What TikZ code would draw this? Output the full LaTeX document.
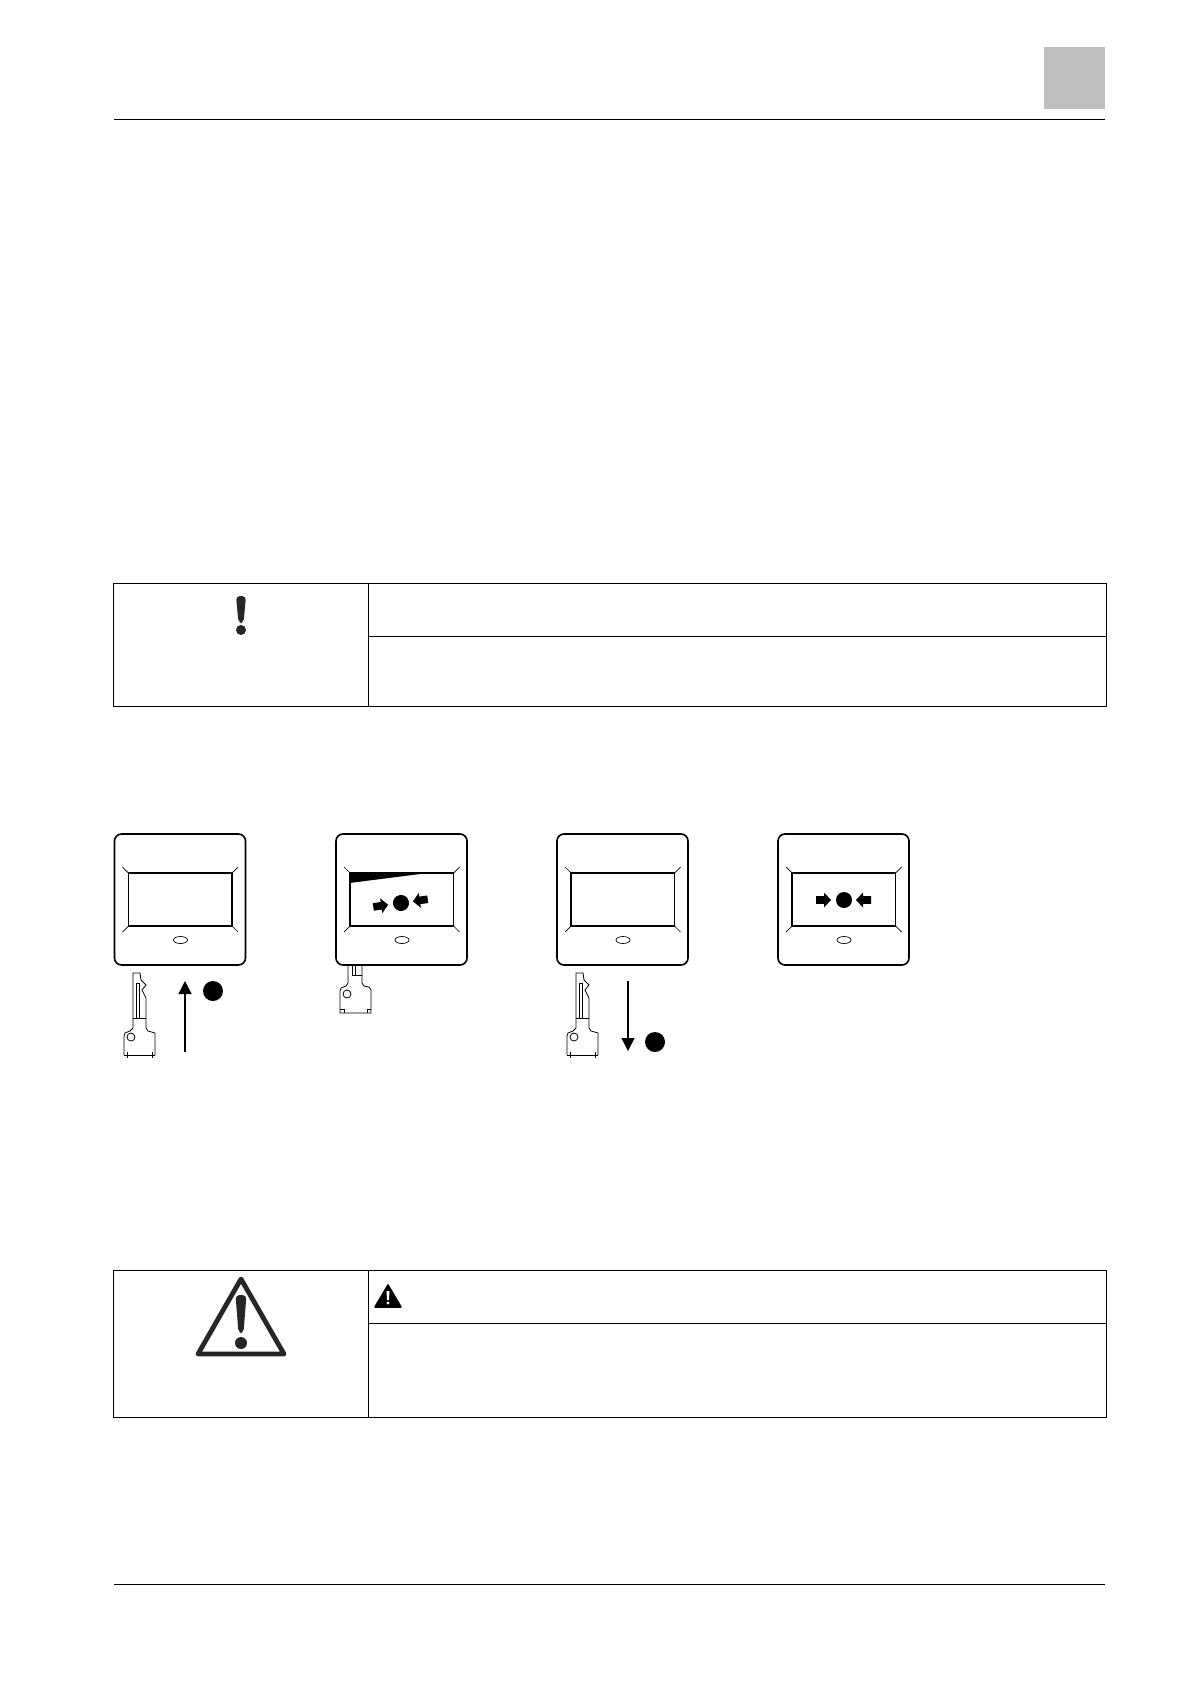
\documentclass[tikz,border=0pt]{standalone}
\usepackage{tikz}
\usetikzlibrary{arrows.meta}
\definecolor{tabgray}{HTML}{BFBFBF}
\definecolor{signblack}{HTML}{262626}
\tikzset{
	rule line/.style={line width=0.55pt, color=black},
	cell line/.style={line width=0.5pt, color=black},
	panel line/.style={line width=0.8pt, color=black, rounded corners=3.5pt},
	window line/.style={line width=0.7pt, color=black},
	thin line/.style={line width=0.35pt, color=black},
	key line/.style={line width=0.4pt, color=black},
	move arrow/.style={line width=0.7pt, color=black, -{Triangle[length=6.5pt, width=6.5pt]}}
}
% panel with window, corner strokes and small oval
\def\callpanel(#1,#2){
	\begin{scope}[shift={(#1,#2)}]
		\draw[panel line] (0, 0) rectangle (131, 131);
		\draw[window line] (14, 39) rectangle (117.5, 92);
		\draw[thin line] (14, 39) -- (8, 33);
		\draw[thin line] (117.5, 39) -- (123.5, 33);
		\draw[thin line] (14, 92) -- (8, 98);
		\draw[thin line] (117.5, 92) -- (123.5, 98);
		\draw[thin line] (66, 106) ellipse (7 and 3.5);
	\end{scope}
}
% dot between two block arrows
\def\pressmark(#1,#2,#3){
	\begin{scope}[shift={(#1,#2)}, rotate=#3]
		\fill (0, 0) circle (8);
		\fill (-28, -3.8) -- (-20, -3.8) -- (-20, -7.5) -- (-13, 0) -- (-20, 7.5) -- (-20, 3.8) -- (-28, 3.8) -- cycle;
		\fill (27, -3.8) -- (19, -3.8) -- (19, -7.5) -- (12, 0) -- (19, 7.5) -- (19, 3.8) -- (27, 3.8) -- cycle;
	\end{scope}
}
% loose key, seen from the front
\def\loosekey(#1,#2){
	\begin{scope}[shift={(#1,#2)}]
		\draw[key line] (133, 1028) -- (133, 973) -- (140, 973) -- (141, 980) -- (146, 985) -- (142, 990) -- (146, 998) -- (146, 1028) -- (148, 1031) -- (155, 1033) -- (155, 1055);
		\draw[key line] (133, 1028) -- (130, 1031) -- (125, 1033) -- (124, 1036) -- (124, 1055);
		\draw[key line] (124, 1055) -- (155, 1055);
		\draw[thin line] (127, 1052) -- (127, 1058);
		\draw[thin line] (152, 1052) -- (152, 1058);
		\draw[key line] (136, 983) rectangle (139, 1018);
		\draw[key line] (133, 1018) -- (146, 1018);
		\draw[key line] (131, 1037) circle (4);
	\end{scope}
}

\begin{document}
\begin{tikzpicture}[x=0.5pt, y=-0.5pt]
		%%%%% PAGE %%%%%
		\useasboundingbox (0, 0) rectangle (1190, 1684);
		
		\fill[tabgray] (1044, 47) rectangle (1105, 109);
		\draw[rule line] (114, 119.5) -- (1105, 119.5);
		\draw[rule line] (114, 1584.5) -- (1105, 1584.5);
		
		%%%%% NOTICE TABLE %%%%%
		\draw[cell line] (113.5, 583.5) rectangle (1106, 706);
		\draw[cell line] (368.5, 583.5) -- (368.5, 706);
		\draw[cell line] (368.5, 636.5) -- (1106, 636.5);
		
		\fill[signblack, rounded corners=2pt] (236, 596) -- (246, 596) -- (243.5, 623) -- (238.5, 623) -- cycle;
		\fill[signblack] (241, 630) circle (5);
		
		%%%%% PANELS %%%%%
		\callpanel(114.5, 834)
		\callpanel(336, 834)
		\callpanel(557, 834)
		\callpanel(778, 834)
		
		\fill (349.5, 873) -- (428, 873) -- (349.5, 883) -- cycle;
		\pressmark(401, 903, 8)
		\pressmark(844, 900, 0)
		
		\loosekey(0, 0)
		\loosekey(443, 0)
		
		% key pushed into the second panel
		\draw[key line] (348, 965) -- (348, 983) -- (346, 986) -- (341, 988) -- (340, 991) -- (340, 1013) -- (371, 1013) -- (371, 990) -- (369, 987) -- (364, 986) -- (362, 983) -- (362, 965);
		\draw[key line] (352, 965) -- (352, 975) -- (362, 975);
		\draw[key line] (355, 965) -- (355, 975);
		\draw[key line] (347, 994) circle (4);
		\draw[thin line] (340, 1009) -- (344, 1009) -- (344, 1013);
		\draw[thin line] (371, 1009) -- (367, 1009) -- (367, 1013);
		
		%%%%% MOVES %%%%%
		\coordinate (upstart) at (185, 1052);
		\coordinate (uptip) at (185, 981);
		\coordinate (downstart) at (628, 981);
		\coordinate (downtip) at (628, 1051);
		\draw[move arrow] (upstart) -- (uptip);
		\draw[move arrow] (downstart) -- (downtip);
		\fill (213, 991) circle (10);
		\fill (655, 1042) circle (10);
		
		%%%%% WARNING TABLE %%%%%
		\draw[cell line] (113.5, 1270.5) rectangle (1106, 1417);
		\draw[cell line] (368.5, 1270.5) -- (368.5, 1417);
		\draw[cell line] (368.5, 1323.5) -- (1106, 1323.5);
		
		\draw[signblack, line width=2.4pt, line join=round] (241, 1279) -- (284, 1354) -- (198, 1354) -- cycle;
		\fill[signblack, rounded corners=2pt] (235.5, 1295) -- (246.5, 1295) -- (243.5, 1333) -- (238.5, 1333) -- cycle;
		\fill[signblack] (241, 1343) circle (6);
		
		\fill[line join=round, draw=black, line width=0.8pt] (388, 1285) -- (401, 1307) -- (375, 1307) -- cycle;
		\fill[white] (386.5, 1291) -- (389.5, 1291) -- (389, 1300) -- (387, 1300) -- cycle;
		\fill[white] (388, 1303) circle (1.7);
		
		%%%%% END %%%%%
	\end{tikzpicture}
\end{document}
